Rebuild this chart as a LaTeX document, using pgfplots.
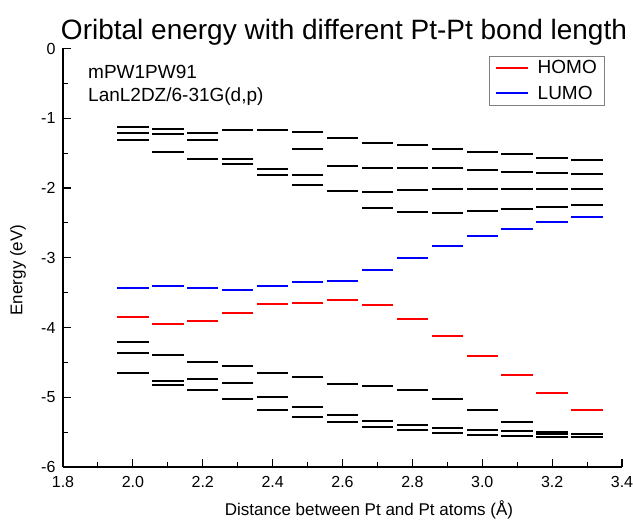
\documentclass[border=0pt]{standalone}
\usepackage{fontspec}
\setmainfont{Liberation Sans}
\usepackage{pgfplots}
\pgfplotsset{compat=1.18}
\definecolor{homo}{RGB}{255,0,0}
\definecolor{lumo}{RGB}{0,0,255}
\begin{document}
\begin{tikzpicture}
\path[use as bounding box] (-63pt,-55pt) rectangle (570pt,467pt);
\begin{axis}[
  at={(0pt,0pt)}, anchor=south west,
  scale only axis, width=559pt, height=418.5pt,
  xmin=1.8, xmax=3.4, ymin=-6, ymax=0,
  axis lines*=left,
  axis line style={line width=1.2pt, black},
  xtick={1.8,2.0,2.2,2.4,2.6,2.8,3.0,3.2,3.4},
  ytick={-6,-5,-4,-3,-2,-1,0},
  minor x tick num=1, minor y tick num=1,
  tick align=inside,
  major tick length=8pt, minor tick length=5pt,
  every tick/.style={line width=1.1pt, black},
  /pgf/number format/assume math mode=true,
  xticklabel style={font=\fontsize{16}{19}\selectfont, yshift=-6pt, /pgf/number format/.cd, fixed, fixed zerofill, precision=1},
  yticklabel style={font=\fontsize{16}{19}\selectfont, xshift=-4pt},
  clip=false,
  legend style={at={(0.968,0.982)}, anchor=north east, draw=gray, line width=0.6pt,
    font=\fontsize{19}{22}\selectfont, row sep=7pt, inner xsep=5pt, inner ysep=2pt,
    /tikz/every odd column/.append style={column sep=7pt}},
  legend image code/.code={\draw[#1] (0pt,0pt) -- (32pt,0pt);},
  legend cell align=left,
]
% black levels
\addplot[forget plot, only marks, mark=-, mark size=15.7pt,
  mark options={line width=2pt, black}] coordinates {
(2.0,-1.12) (2.0,-1.215) (2.0,-1.315) (2.0,-4.21) (2.0,-4.37) (2.0,-4.65)
(2.1,-1.15) (2.1,-1.23) (2.1,-1.49) (2.1,-4.40) (2.1,-4.77) (2.1,-4.83)
(2.2,-1.215) (2.2,-1.305) (2.2,-1.59) (2.2,-4.49) (2.2,-4.745) (2.2,-4.90)
(2.3,-1.17) (2.3,-1.59) (2.3,-1.65) (2.3,-4.55) (2.3,-4.79) (2.3,-5.02)
(2.4,-1.17) (2.4,-1.73) (2.4,-1.82) (2.4,-4.65) (2.4,-4.99) (2.4,-5.18)
(2.5,-1.20) (2.5,-1.435) (2.5,-1.81) (2.5,-1.96) (2.5,-4.71) (2.5,-5.135) (2.5,-5.28)
(2.6,-1.285) (2.6,-1.68) (2.6,-2.045) (2.6,-4.805) (2.6,-5.255) (2.6,-5.35)
(2.7,-1.355) (2.7,-1.72) (2.7,-2.06) (2.7,-2.285) (2.7,-4.84) (2.7,-5.345) (2.7,-5.42)
(2.8,-1.385) (2.8,-1.72) (2.8,-2.03) (2.8,-2.345) (2.8,-4.895) (2.8,-5.40) (2.8,-5.465)
(2.9,-1.435) (2.9,-1.72) (2.9,-2.015) (2.9,-2.355) (2.9,-5.02) (2.9,-5.445) (2.9,-5.51)
(3.0,-1.48) (3.0,-1.745) (3.0,-2.015) (3.0,-2.33) (3.0,-5.18) (3.0,-5.475) (3.0,-5.535)
(3.1,-1.515) (3.1,-1.765) (3.1,-2.015) (3.1,-2.305) (3.1,-5.355) (3.1,-5.485) (3.1,-5.55)
(3.2,-1.57) (3.2,-1.78) (3.2,-2.015) (3.2,-2.275) (3.2,-5.505) (3.2,-5.53) (3.2,-5.565)
(3.3,-1.605) (3.3,-1.80) (3.3,-2.015) (3.3,-2.25) (3.3,-5.52) (3.3,-5.57)
};
% HOMO
\addplot[forget plot, only marks, mark=-, mark size=15.7pt,
  mark options={line width=2pt, homo}] coordinates {
(2.0,-3.847) (2.1,-3.951) (2.2,-3.909) (2.3,-3.794) (2.4,-3.670) (2.5,-3.650) (2.6,-3.610)
(2.7,-3.679) (2.8,-3.880) (2.9,-4.129) (3.0,-4.405) (3.1,-4.682) (3.2,-4.940) (3.3,-5.184)
};
% LUMO
\addplot[forget plot, only marks, mark=-, mark size=15.7pt,
  mark options={line width=2pt, lumo}] coordinates {
(2.0,-3.431) (2.1,-3.412) (2.2,-3.431) (2.3,-3.465) (2.4,-3.403) (2.5,-3.345) (2.6,-3.336)
(2.7,-3.173) (2.8,-2.997) (2.9,-2.834) (3.0,-2.691) (3.1,-2.581) (3.2,-2.490) (3.3,-2.410)
};
\addlegendimage{homo, line width=2pt}
\addlegendentry{HOMO}
\addlegendimage{lumo, line width=2pt}
\addlegendentry{LUMO}
\node[anchor=base west, font=\fontsize{19}{22}\selectfont] at (axis cs:1.862,-0.43) {mPW1PW91};
\node[anchor=base west, font=\fontsize{19}{22}\selectfont] at (axis cs:1.862,-0.76) {LanL2DZ/6-31G(d,p)};
\end{axis}
\node[anchor=base, font=\fontsize{28}{32}\selectfont] at (281pt,427pt) {Oribtal energy with different Pt-Pt bond length};
\node[rotate=90, anchor=center, font=\fontsize{17}{20}\selectfont] at (-45pt,197pt) {Energy (eV)};
\node[anchor=base, font=\fontsize{17}{20}\selectfont] at (306pt,-49pt) {Distance between Pt and Pt atoms (Å)};
\end{tikzpicture}
\end{document}
